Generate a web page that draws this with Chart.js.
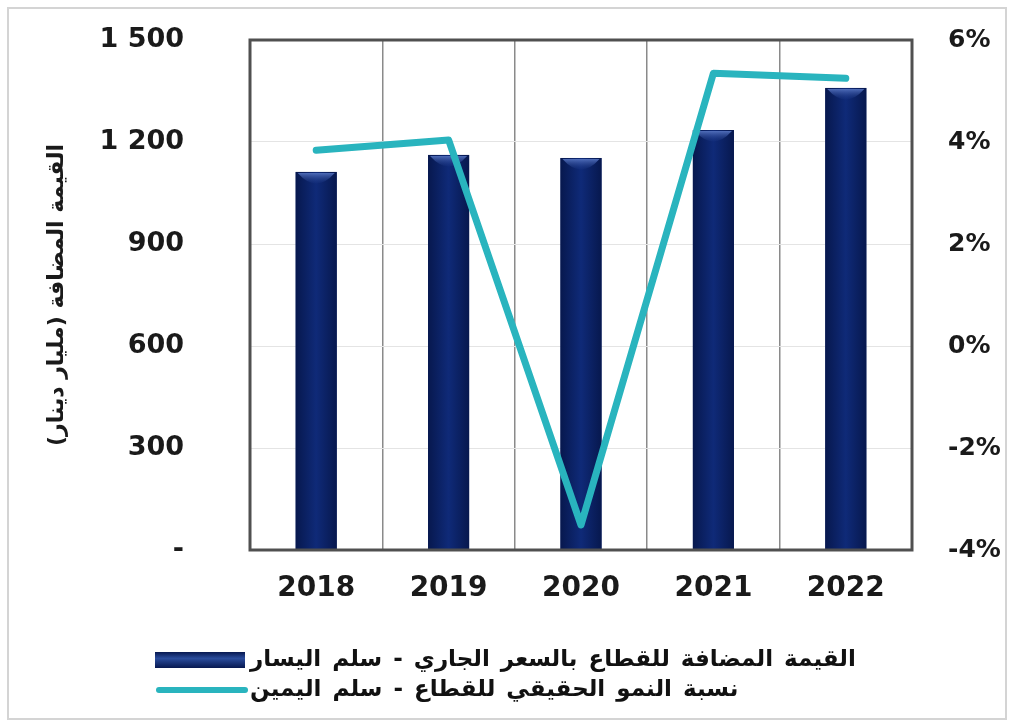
<!DOCTYPE html>
<html>
<head>
<meta charset="utf-8">
<script src="https://cdn.jsdelivr.net/npm/chart.js@4.4.1/dist/chart.umd.min.js"></script>
<style>
  html, body { margin: 0; padding: 0; background: #ffffff; }
  #wrap { position: relative; width: 1012px; height: 724px; }
</style>
</head>
<body>
<div id="wrap"><canvas id="chart" width="1012" height="724"></canvas></div>
<script>
const years = ["2018", "2019", "2020", "2021", "2022"];
const addedValue = [1112, 1162, 1153, 1235, 1359];
const realGrowth = [3.84, 4.04, -3.51, 5.35, 5.25];
const leftTicks = [0, 300, 600, 900, 1200, 1500];
const rightTicks = [-4, -2, 0, 2, 4, 6];
const seriesNames = [
  "القيمة المضافة للقطاع بالسعر الجاري - سلم اليسار",
  "نسبة النمو الحقيقي للقطاع - سلم اليمين"
];
const yTitle = "القيمة المضافة (مليار دينار)";

const navy = "#0c2268";
const teal = "#29b4be";

// frame, bar shading, plot border and the legend under the chart
const decor = {
  id: "decor",
  beforeDraw(chart) {
    const ctx = chart.ctx;
    ctx.save();
    ctx.strokeStyle = "#d4d4d4";
    ctx.lineWidth = 2;
    ctx.strokeRect(8, 8, 998, 711);
    ctx.restore();
  },
  afterDatasetDraw(chart, args) {
    if (chart.data.datasets[args.index].type !== "bar") return;
    const ctx = chart.ctx;
    ctx.save();
    args.meta.data.forEach(bar => {
      const l = bar.x - bar.width / 2, r = bar.x + bar.width / 2;
      const g = ctx.createLinearGradient(l, 0, r, 0);
      g.addColorStop(0, "#07184e");
      g.addColorStop(0.5, "#0f2a78");
      g.addColorStop(1, "#07184e");
      ctx.fillStyle = g;
      ctx.fillRect(l, bar.y, bar.width, bar.base - bar.y);
      // lighter cap at the top
      const c = ctx.createLinearGradient(0, bar.y, 0, bar.y + 14);
      c.addColorStop(0, "#5a78c4");
      c.addColorStop(1, "rgba(15,42,120,0)");
      ctx.fillStyle = c;
      ctx.beginPath();
      ctx.moveTo(l + 2, bar.y + 1);
      ctx.lineTo(r - 2, bar.y + 1);
      ctx.quadraticCurveTo(bar.x, bar.y + 22, l + 2, bar.y + 1);
      ctx.fill();
    });
    ctx.restore();
  },
  afterDraw(chart) {
    const ctx = chart.ctx;
    const a = chart.chartArea;
    ctx.save();
    ctx.strokeStyle = "#505050";
    ctx.lineWidth = 3;
    ctx.strokeRect(a.left, a.top, a.right - a.left, a.bottom - a.top);

    const x0 = 155, x1 = 245;
    const rows = [660, 690];
    chart.data.datasets.forEach((ds, i) => {
      const y = rows[i];
      if (ds.type === "line") {
        ctx.strokeStyle = teal;
        ctx.lineWidth = 6;
        ctx.lineCap = "round";
        ctx.beginPath();
        ctx.moveTo(x0 + 4, y);
        ctx.lineTo(x1, y);
        ctx.stroke();
      } else {
        const g = ctx.createLinearGradient(0, y - 8, 0, y + 8);
        g.addColorStop(0, "#071850");
        g.addColorStop(0.4, "#2a4c9c");
        g.addColorStop(1, "#071850");
        ctx.fillStyle = g;
        ctx.fillRect(x0, y - 8, x1 - x0, 16);
      }
      ctx.fillStyle = "#111";
      ctx.font = "bold 23px 'DejaVu Sans'";
      ctx.wordSpacing = "3px";
      ctx.direction = "rtl";
      ctx.textAlign = "left";
      ctx.textBaseline = "middle";
      ctx.fillText(ds.label, 250, y);
    });
    ctx.restore();
  }
};

new Chart(document.getElementById("chart"), {
  type: "bar",
  plugins: [decor],
  data: {
    labels: years,
    datasets: [
      {
        type: "bar",
        label: seriesNames[0],
        data: addedValue,
        yAxisID: "y",
        backgroundColor: navy,
        borderWidth: 0,
        barPercentage: 0.31,
        categoryPercentage: 1,
        order: 1
      },
      {
        type: "line",
        label: seriesNames[1],
        data: realGrowth,
        yAxisID: "y1",
        borderColor: teal,
        borderWidth: 7,
        borderCapStyle: "round",
        borderJoinStyle: "round",
        pointRadius: 0,
        tension: 0,
        order: 0
      }
    ]
  },
  options: {
    responsive: false,
    animation: false,
    layout: { padding: { left: 44, right: 0, top: 40, bottom: 104 } },
    plugins: { legend: { display: false }, tooltip: { enabled: false } },
    scales: {
      x: {
        offset: true,
        grid: { offset: true, color: "#8a8a8a", lineWidth: 1.5, drawTicks: false },
        border: { display: false },
        ticks: {
          color: "#1a1a1a",
          padding: 22,
          font: { family: "DejaVu Sans", size: 28, weight: "bold" }
        },
        afterFit(s) { s.height = 70; s.paddingLeft = 0; s.paddingRight = 0; }
      },
      y: {
        position: "left",
        min: 0,
        max: 1500,
        afterBuildTicks(s) { s.ticks = leftTicks.map(v => ({ value: v })); },
        grid: { color: "#e4e4e4", lineWidth: 1, drawTicks: false },
        border: { display: false },
        ticks: {
          color: "#1a1a1a",
          padding: 66,
          font: { family: "DejaVu Sans", size: 27, weight: "bold" },
          callback: v => v === 0 ? "-" : String(v).replace(/\B(?=(\d{3})+(?!\d))/g, " ")
        },
        title: {
          display: true,
          text: yTitle,
          color: "#1a1a1a",
          padding: { top: 0, bottom: 0 },
          font: { family: "DejaVu Sans", size: 22, weight: "bold" }
        },
        afterFit(s) { s.width = 250 - 44; s.paddingTop = 0; s.paddingBottom = 0; }
      },
      y1: {
        position: "right",
        min: -4,
        max: 6,
        afterBuildTicks(s) { s.ticks = rightTicks.map(v => ({ value: v })); },
        grid: { drawOnChartArea: false, drawTicks: false },
        border: { display: false },
        ticks: {
          color: "#1a1a1a",
          padding: 36,
          font: { family: "DejaVu Sans", size: 25, weight: "bold" },
          callback: v => v + "%"
        },
        afterFit(s) { s.width = 100; s.paddingTop = 0; s.paddingBottom = 0; }
      }
    }
  }
});
</script>
</body>
</html>
